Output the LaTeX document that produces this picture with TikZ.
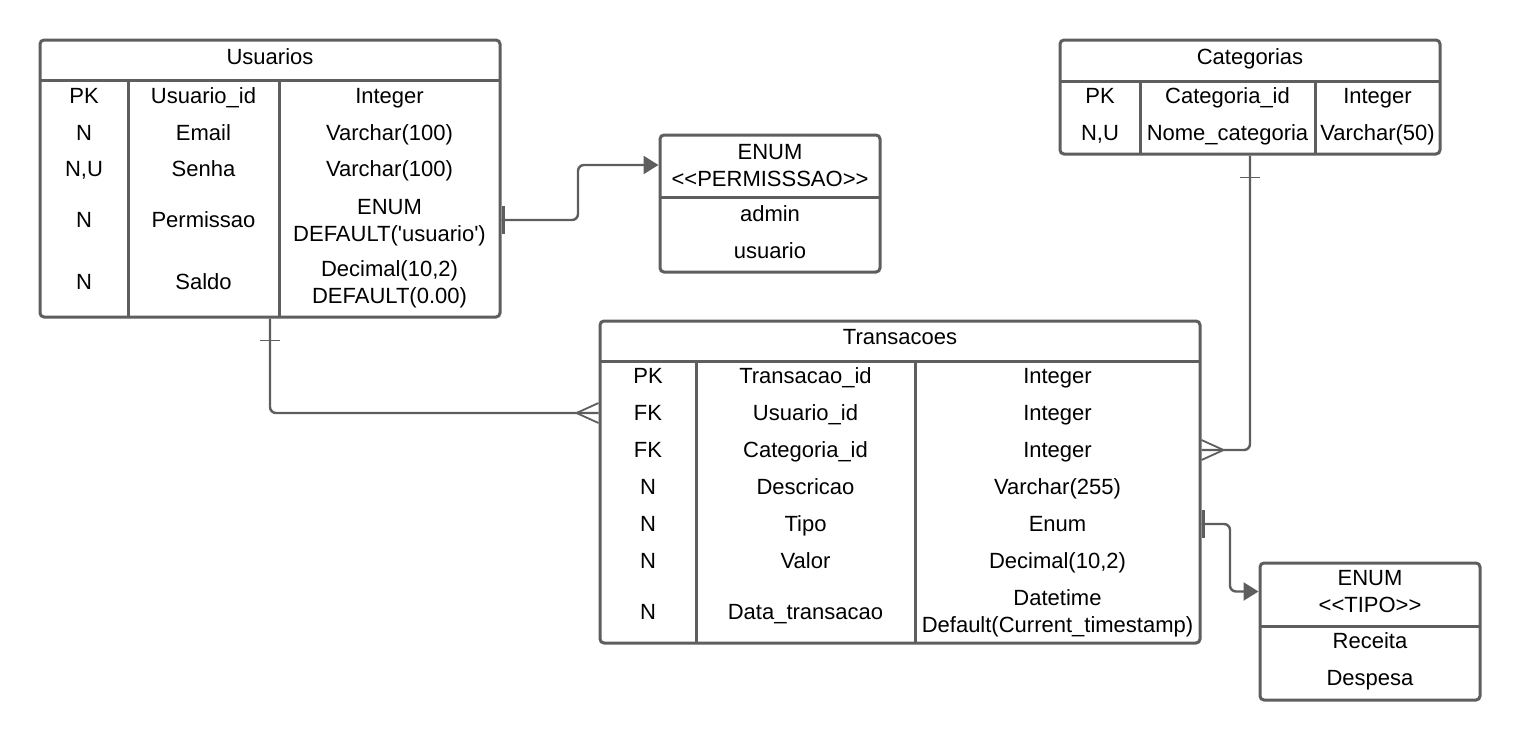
\documentclass[tikz,border=0pt]{standalone}
\usepackage{fontspec}
\setmainfont{Liberation Sans}[Ligatures=TeXOff]
\usepackage{tikz}
\usetikzlibrary{arrows.meta}
\definecolor{linegray}{RGB}{94,94,94}
\tikzset{table/.style={draw=linegray, line width=1.5pt, rounded corners=2pt}}
\tikzset{divider/.style={draw=linegray, line width=1.5pt}}
\tikzset{link/.style={draw=linegray, line width=1.2pt, rounded corners=3pt}}
\tikzset{crowfoot/.style={draw=linegray, line width=0.9pt}}
\tikzset{onebar/.style={draw=linegray, line width=1.5pt}}
\tikzset{tick/.style={draw=linegray, line width=0.9pt}}
\tikzset{twoline/.style={text height=21.4pt}}

\begin{document}
\begin{tikzpicture}[x=0.5pt, y=-0.5pt]
	% Default action for each node
	\tikzstyle{every node}=[font=\fontsize{11}{13.5}\selectfont, align=center, inner sep=0pt, text height=7.9pt, text depth=0pt];
	\useasboundingbox (0,0) rectangle (1520,740);

	% USUARIOS
	\node[table, minimum width=230pt, minimum height=138.5pt] (usuarios) at (270,178.5) {};
	\coordinate (u head west) at (40,80);		\coordinate (u head east) at (500,80);
	\coordinate (u col1 top) at (128,80);		\coordinate (u col1 bot) at (128,317);
	\coordinate (u col2 top) at (279,80);		\coordinate (u col2 bot) at (279,317);
	\draw[divider] (u head west) -- (u head east);
	\draw[divider] (u col1 top) -- (u col1 bot);
	\draw[divider] (u col2 top) -- (u col2 bot);

												\node (u title) at (270,57) {Usuarios};
	\node (u r1c1) at (84,96) {PK};				\node (u r1c2) at (203.5,96) {Usuario\_id};		\node (u r1c3) at (389.5,96) {Integer};
	\node (u r2c1) at (84,133) {N};				\node (u r2c2) at (203.5,133) {Email};			\node (u r2c3) at (389.5,133) {Varchar(100)};
	\node (u r3c1) at (84,169) {N,U};			\node (u r3c2) at (203.5,169) {Senha};			\node (u r3c3) at (389.5,169) {Varchar(100)};
	\node (u r4c1) at (84,220) {N};				\node (u r4c2) at (203.5,220) {Permissao};		\node[twoline] (u r4c3) at (389.5,220) {ENUM\\DEFAULT('usuario')};
	\node (u r5c1) at (84,282) {N};				\node (u r5c2) at (203.5,282) {Saldo};			\node[twoline] (u r5c3) at (389.5,282) {Decimal(10,2)\\DEFAULT(0.00)};

	% ENUM PERMISSAO
	\node[table, minimum width=110pt, minimum height=68.5pt] (permissao) at (770,203.5) {};
	\coordinate (p head west) at (660,197);		\coordinate (p head east) at (880,197);
	\draw[divider] (p head west) -- (p head east);
	\node[twoline] (p title) at (770,165) {ENUM\\<<PERMISSSAO>>};
	\node (p r1) at (770,214) {admin};
	\node (p r2) at (770,251) {usuario};

	% CATEGORIAS
	\node[table, minimum width=190pt, minimum height=57pt] (categorias) at (1250,97) {};
	\coordinate (c head west) at (1060,81);		\coordinate (c head east) at (1440,81);
	\coordinate (c col1 top) at (1140,81);		\coordinate (c col1 bot) at (1140,154);
	\coordinate (c col2 top) at (1315,81);		\coordinate (c col2 bot) at (1315,154);
	\draw[divider] (c head west) -- (c head east);
	\draw[divider] (c col1 top) -- (c col1 bot);
	\draw[divider] (c col2 top) -- (c col2 bot);

												\node (c title) at (1250,57) {Categorias};
	\node (c r1c1) at (1100,96) {PK};			\node (c r1c2) at (1227.5,96) {Categoria\_id};		\node (c r1c3) at (1377.5,96) {Integer};
	\node (c r2c1) at (1100,133) {N,U};			\node (c r2c2) at (1227.5,133) {Nome\_categoria};	\node (c r2c3) at (1377.5,133) {Varchar(50)};

	% TRANSACOES
	\node[table, minimum width=300pt, minimum height=161pt] (transacoes) at (900,482) {};
	\coordinate (t head west) at (600,361);		\coordinate (t head east) at (1200,361);
	\coordinate (t col1 top) at (696,361);		\coordinate (t col1 bot) at (696,643);
	\coordinate (t col2 top) at (915,361);		\coordinate (t col2 bot) at (915,643);
	\draw[divider] (t head west) -- (t head east);
	\draw[divider] (t col1 top) -- (t col1 bot);
	\draw[divider] (t col2 top) -- (t col2 bot);

												\node (t title) at (900,337) {Transacoes};
	\node (t r1c1) at (648,376) {PK};			\node (t r1c2) at (805.5,376) {Transacao\_id};		\node (t r1c3) at (1057.5,376) {Integer};
	\node (t r2c1) at (648,413) {FK};			\node (t r2c2) at (805.5,413) {Usuario\_id};		\node (t r2c3) at (1057.5,413) {Integer};
	\node (t r3c1) at (648,450) {FK};			\node (t r3c2) at (805.5,450) {Categoria\_id};		\node (t r3c3) at (1057.5,450) {Integer};
	\node (t r4c1) at (648,487) {N};			\node (t r4c2) at (805.5,487) {Descricao};			\node (t r4c3) at (1057.5,487) {Varchar(255)};
	\node (t r5c1) at (648,524) {N};			\node (t r5c2) at (805.5,524) {Tipo};				\node (t r5c3) at (1057.5,524) {Enum};
	\node (t r6c1) at (648,561) {N};			\node (t r6c2) at (805.5,561) {Valor};				\node (t r6c3) at (1057.5,561) {Decimal(10,2)};
	\node (t r7c1) at (648,612) {N};			\node (t r7c2) at (805.5,612) {Data\_transacao};	\node[twoline] (t r7c3) at (1057.5,611.5) {Datetime\\Default(Current\_timestamp)};

	% ENUM TIPO
	\node[table, minimum width=110pt, minimum height=68.5pt] (tipo) at (1370,631.5) {};
	\coordinate (e head west) at (1260,626);	\coordinate (e head east) at (1480,626);
	\draw[divider] (e head west) -- (e head east);
	\node[twoline] (e title) at (1370,591.5) {ENUM\\<<TIPO>>};
	\node (e r1) at (1370,641) {Receita};
	\node (e r2) at (1370,678) {Despesa};

	% Usuarios -> Permissao
	\coordinate (p bend) at (578,165);
	\draw[link, -{Triangle[length=7.5pt, width=9pt]}] (usuarios.east |- u r4c2) -| (p bend) -- (permissao.west |- p title);
	\draw[onebar] ([xshift=1pt]usuarios.east |- u r4c2) ++(0,-14) -- ++(0,28);

	% Usuarios -> Transacoes
	\draw[link] (usuarios.south) |- (transacoes.west |- t r2c1);
	\draw[tick] ([yshift=-11pt]usuarios.south) ++(-10,0) -- ++(20,0);
	\draw[crowfoot] (transacoes.west |- t r2c1) ++(0,-10) -- ++(-22,10) -- ++(22,10);

	% Categorias -> Transacoes
	\draw[link] (categorias.south) |- (transacoes.east |- t r3c3);
	\draw[tick] ([yshift=-11pt]categorias.south) ++(-10,0) -- ++(20,0);
	\draw[crowfoot] (transacoes.east |- t r3c3) ++(0,-10) -- ++(22,10) -- ++(-22,10);

	% Transacoes -> Tipo
	\coordinate (e bend) at (1230,591.5);
	\draw[link, -{Triangle[length=7.5pt, width=9pt]}] (transacoes.east |- t r5c3) -| (e bend) -- (tipo.west |- e title);
	\draw[onebar] ([xshift=1pt]transacoes.east |- t r5c3) ++(0,-14) -- ++(0,28);
\end{tikzpicture}
\end{document}
